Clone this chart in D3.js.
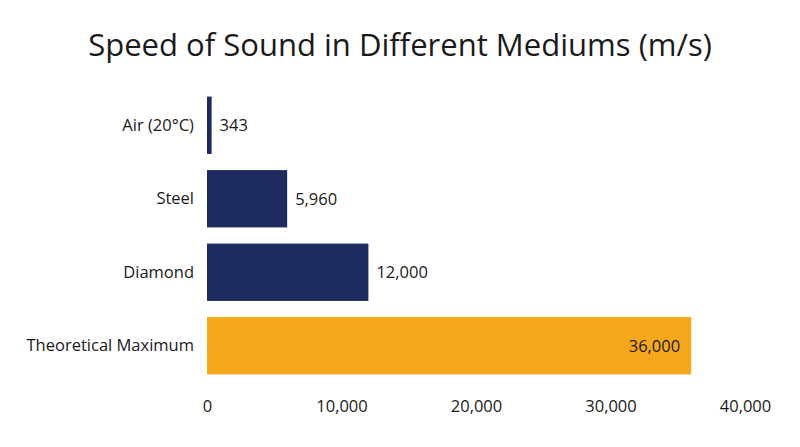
<!DOCTYPE html>
<html><head><meta charset="utf-8">
<script src="https://cdn.jsdelivr.net/npm/d3@7"></script>
<style>body{margin:0;background:#fff}svg{display:block}text{font-family:"Open Sans",sans-serif;fill:#1a1a1a}</style>
</head><body><svg id="c" width="800" height="447"></svg>
<script>
const title = "Speed of Sound in Different Mediums (m/s)";
const categories = ["Air (20°C)", "Steel", "Diamond", "Theoretical Maximum"];
const values = [343, 5960, 12000, 36000];
const highlight = [false, false, false, true];
const ticks = [0, 10000, 20000, 30000, 40000];

const svg = d3.select("#c");
const navy = "#1e2b5e", orange = "#f6a81c";
const fs = "16.5px";
const x = d3.scaleLinear().domain([0, 40000]).range([207, 745]);
const y = d3.scaleBand().domain(categories).range([88.5, 382.5]).paddingInner(0.22).paddingOuter(0.11);
const fmt = d3.format(",");

const t = svg.append("text").attr("x", 400).attr("y", 56).attr("text-anchor", "middle")
  .style("font-size", "28px").text(title);
const w = t.node().getComputedTextLength();
t.style("font-size", (28 * 624 / w) + "px");

svg.append("g").selectAll("rect").data(values).join("rect")
  .attr("x", x(0)).attr("y", (d, i) => y(categories[i]))
  .attr("width", d => x(d) - x(0)).attr("height", y.bandwidth())
  .attr("fill", (d, i) => highlight[i] ? orange : navy);

svg.append("g").selectAll("text").data(values).join("text")
  .attr("x", (d, i) => highlight[i] ? x(d) - 11 : x(d) + 8)
  .attr("y", (d, i) => y(categories[i]) + y.bandwidth() / 2)
  .attr("dy", "0.35em")
  .attr("text-anchor", (d, i) => highlight[i] ? "end" : "start")
  .style("font-size", fs).text(d => fmt(d));

const ya = svg.append("g").attr("transform", `translate(${x(0)},0)`)
  .call(d3.axisLeft(y).tickSize(0).tickPadding(13));
ya.select(".domain").remove();
ya.selectAll("text").style("font-size", fs).attr("fill", "#1a1a1a").style("font-family", '"Open Sans",sans-serif');

const xa = svg.append("g").attr("transform", `translate(0,390)`)
  .call(d3.axisBottom(x).tickValues(ticks).tickFormat(fmt).tickSize(0).tickPadding(10));
xa.select(".domain").remove();
xa.selectAll("text").style("font-size", fs).attr("fill", "#1a1a1a").style("font-family", '"Open Sans",sans-serif');
</script></body></html>
